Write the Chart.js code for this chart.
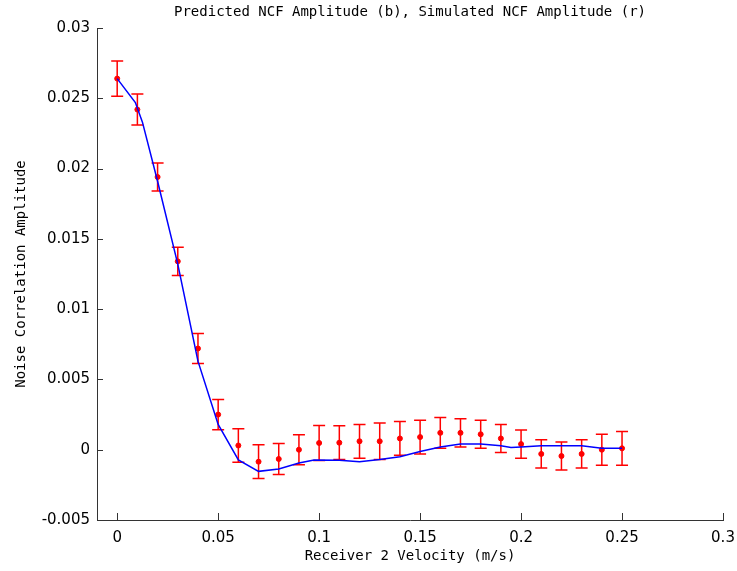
<!DOCTYPE html>
<html lang="en">
<head>
    <meta charset="UTF-8">
    <title>Predicted vs Simulated NCF Amplitude</title>
    <script src="https://cdn.jsdelivr.net/npm/chart.js@4.4.1/dist/chart.umd.min.js"></script>
    <style>
        body {
            margin: 0;
            background-color: white;
        }
        .chart-container {
            position: relative;
            width: 737px;
            height: 571px;
        }
    </style>
</head>
<body>
    <div class="chart-container">
        <canvas id="ncfChart"></canvas>
    </div>

    <script>
        // Simulated NCF amplitude (red points with error bars)
        const simVelocity = [0, 0.01, 0.02, 0.03, 0.04, 0.05, 0.06, 0.07, 0.08, 0.09,
                             0.10, 0.11, 0.12, 0.13, 0.14, 0.15, 0.16, 0.17, 0.18, 0.19,
                             0.20, 0.21, 0.22, 0.23, 0.24, 0.25];
        const simAmplitude = [0.0264, 0.0242, 0.0194, 0.0134, 0.0072, 0.0025, 0.0003, -0.00085, -0.00066, 0.0,
                              0.00048, 0.0005, 0.0006, 0.0006, 0.0008, 0.0009, 0.0012, 0.0012, 0.0011, 0.0008,
                              0.0004, -0.0003, -0.00045, -0.0003, 0.0, 0.0001];
        const simError = [0.00125, 0.0011, 0.001, 0.001, 0.00107, 0.00108, 0.0012, 0.0012, 0.00111, 0.00107,
                          0.00125, 0.0012, 0.0012, 0.0013, 0.0012, 0.0012, 0.0011, 0.001, 0.001, 0.001,
                          0.001, 0.001, 0.001, 0.001, 0.0011, 0.0012];

        // Predicted NCF amplitude (blue line)
        const predVelocity = [0, 0.009, 0.0125, 0.02, 0.03, 0.04, 0.05, 0.06, 0.07, 0.08,
                              0.09, 0.0975, 0.11, 0.12, 0.13, 0.14, 0.15, 0.16, 0.165, 0.17,
                              0.18, 0.19, 0.195, 0.20, 0.21, 0.22, 0.23, 0.24, 0.25];
        const predAmplitude = [0.0264, 0.0247, 0.0233, 0.0191, 0.0132, 0.0063, 0.0018, -0.00073, -0.00154, -0.00137,
                               -0.00094, -0.00073, -0.00075, -0.00085, -0.0007, -0.0005, -0.00013, 0.0002, 0.0003, 0.0004,
                               0.0004, 0.00028, 0.00016, 0.0002, 0.00028, 0.00028, 0.00028, 0.0001, 0.0001];

        // Axis ticks
        const xTickValues = [0, 0.05, 0.1, 0.15, 0.2, 0.25, 0.3];
        const xTickLabels = ['0', '0.05', '0.1', '0.15', '0.2', '0.25', '0.3'];
        const yTickValues = [-0.005, 0, 0.005, 0.01, 0.015, 0.02, 0.025, 0.03];
        const yTickLabels = ['-0.005', '0', '0.005', '0.01', '0.015', '0.02', '0.025', '0.03'];

        const monoFont = "'DejaVu Sans Mono', monospace";
        const tickFont = "'DejaVu Sans', sans-serif";

        // Vertical error bars for the simulated series, drawn under the blue line
        const errorBarPlugin = {
            id: 'errorBars',
            afterDatasetDraw(chart, args) {
                if (args.index !== 1) return;
                const ctx = chart.ctx;
                const xs = chart.scales.x;
                const ys = chart.scales.y;
                ctx.save();
                ctx.strokeStyle = 'rgb(255, 0, 0)';
                ctx.lineWidth = 1.5;
                simVelocity.forEach((v, i) => {
                    const px = xs.getPixelForValue(v);
                    const top = ys.getPixelForValue(simAmplitude[i] + simError[i]);
                    const bot = ys.getPixelForValue(simAmplitude[i] - simError[i]);
                    ctx.beginPath();
                    ctx.moveTo(px, top);
                    ctx.lineTo(px, bot);
                    ctx.moveTo(px - 6, top);
                    ctx.lineTo(px + 6, top);
                    ctx.moveTo(px - 6, bot);
                    ctx.lineTo(px + 6, bot);
                    ctx.stroke();
                });
                ctx.restore();
            }
        };

        // Tick marks pointing into the plot area
        const innerTicksPlugin = {
            id: 'innerTicks',
            afterDraw(chart) {
                const ctx = chart.ctx;
                const xs = chart.scales.x;
                const ys = chart.scales.y;
                const area = chart.chartArea;
                ctx.save();
                ctx.strokeStyle = '#333';
                ctx.lineWidth = 1;
                ctx.beginPath();
                xTickValues.forEach(v => {
                    const px = Math.round(xs.getPixelForValue(v)) + 0.5;
                    ctx.moveTo(px, area.bottom);
                    ctx.lineTo(px, area.bottom - 7);
                });
                yTickValues.forEach(v => {
                    const py = Math.round(ys.getPixelForValue(v)) + 0.5;
                    ctx.moveTo(area.left, py);
                    ctx.lineTo(area.left + 6, py);
                });
                ctx.stroke();
                ctx.restore();
            }
        };

        const ctx = document.getElementById('ncfChart').getContext('2d');
        const chart = new Chart(ctx, {
            type: 'line',
            data: {
                datasets: [
                    {
                        label: 'Predicted NCF Amplitude',
                        data: predVelocity.map((v, i) => ({ x: v, y: predAmplitude[i] })),
                        borderColor: 'rgb(0, 0, 255)',
                        borderWidth: 1.5,
                        pointRadius: 0,
                        tension: 0,
                        order: 0
                    },
                    {
                        label: 'Simulated NCF Amplitude',
                        data: simVelocity.map((v, i) => ({ x: v, y: simAmplitude[i] })),
                        showLine: false,
                        pointStyle: 'circle',
                        pointRadius: 2.5,
                        pointBackgroundColor: 'rgb(255, 0, 0)',
                        pointBorderColor: 'rgb(255, 0, 0)',
                        pointBorderWidth: 1,
                        order: 1
                    }
                ]
            },
            options: {
                responsive: true,
                maintainAspectRatio: false,
                animation: false,
                layout: {
                    padding: { top: 0, right: 14, bottom: 0, left: 0 }
                },
                plugins: {
                    legend: { display: false },
                    tooltip: { enabled: false },
                    title: {
                        display: true,
                        fullSize: false,
                        text: 'Predicted NCF Amplitude (b), Simulated NCF Amplitude (r)',
                        color: '#000',
                        font: { family: monoFont, size: 14, weight: 'normal' },
                        padding: { top: 4, bottom: 7.2 }
                    }
                },
                scales: {
                    x: {
                        type: 'linear',
                        min: -0.01,
                        max: 0.3,
                        afterBuildTicks: scale => {
                            scale.ticks = xTickValues.map(v => ({ value: v }));
                        },
                        afterFit: scale => {
                            // keep the plot edge fixed; the last label may overhang into the margin
                            scale.height = 51;
                            scale.paddingLeft = 0;
                            scale.paddingRight = 0;
                        },
                        ticks: {
                            color: '#000',
                            padding: 9,
                            maxRotation: 0,
                            font: { family: tickFont, size: 15 },
                            callback: (value, index) => xTickLabels[index]
                        },
                        grid: { display: false, drawTicks: false },
                        border: { display: true, color: '#333', width: 1 },
                        title: {
                            display: true,
                            text: 'Receiver 2 Velocity (m/s)',
                            color: '#000',
                            font: { family: monoFont, size: 14 },
                            padding: { top: 0, bottom: 6.6 }
                        }
                    },
                    y: {
                        type: 'linear',
                        min: -0.005,
                        max: 0.03,
                        afterBuildTicks: scale => {
                            scale.ticks = yTickValues.map(v => ({ value: v }));
                        },
                        afterFit: scale => {
                            scale.width = 97;
                            scale.paddingTop = 0;
                            scale.paddingBottom = 0;
                        },
                        ticks: {
                            color: '#000',
                            padding: 7,
                            font: { family: tickFont, size: 15 },
                            callback: (value, index) => yTickLabels[index]
                        },
                        grid: { display: false, drawTicks: false },
                        border: { display: true, color: '#333', width: 1 },
                        title: {
                            display: true,
                            text: 'Noise Correlation Amplitude',
                            color: '#000',
                            font: { family: monoFont, size: 14 },
                            padding: { top: 13, bottom: 0 }
                        }
                    }
                }
            },
            plugins: [errorBarPlugin, innerTicksPlugin]
        });
    </script>
</body>
</html>
